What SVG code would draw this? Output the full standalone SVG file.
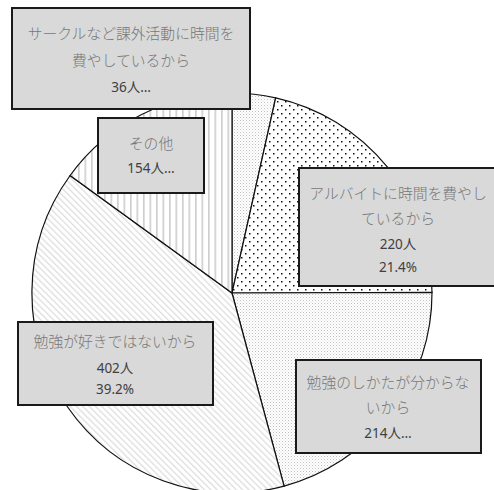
<svg xmlns="http://www.w3.org/2000/svg" width="494" height="490" viewBox="0 0 494 490">
<defs>
<pattern id="fine" width="3" height="3" patternUnits="userSpaceOnUse">
<rect width="3" height="3" fill="#fff"/>
<rect x="0" y="0" width="1" height="1" fill="#c0c0c0"/>
<rect x="1.5" y="1.5" width="1" height="1" fill="#d8d8d8"/>
</pattern>
<pattern id="dots" width="8" height="8" patternUnits="userSpaceOnUse">
<rect width="8" height="8" fill="#fff"/>
<rect x="1" y="1" width="1.5" height="1.5" fill="#111"/>
<rect x="5" y="5" width="1.5" height="1.5" fill="#111"/>
</pattern>
<pattern id="vert" width="6.5" height="10" patternUnits="userSpaceOnUse">
<rect width="6.5" height="10" fill="#fff"/>
<rect x="0" y="0" width="1.6" height="10" fill="#cdcdcd"/>
</pattern>
<pattern id="diag" width="4.5" height="10" patternUnits="userSpaceOnUse" patternTransform="rotate(-45)">
<rect width="4.5" height="10" fill="#fff"/>
<rect x="0" y="0" width="1.3" height="10" fill="#dedede"/>
</pattern>
<style>
.sl{stroke:#111;stroke-width:1.2}
.box{fill:#d9d9d9;stroke:#1a1a1a;stroke-width:2}
.jp{font-family:"Noto Sans CJK JP","Noto Sans",sans-serif;font-size:14.8px;font-weight:300;fill:#777;text-anchor:middle}
.num{font-family:"Noto Sans","Noto Sans CJK JP",sans-serif;font-size:13.5px;fill:#404040;text-anchor:middle}
</style>
</defs>
<rect width="494" height="490" fill="#fff"/>
<g id="pie">
<path id="slice-circle" class="sl" fill="url(#fine)" d="M232,293 L232,93 A200,200 0 0 1 275.7,97.8 Z"/>
<path id="slice-baito" class="sl" fill="url(#dots)" d="M232,293 L275.7,97.8 A200,200 0 0 1 432,292.4 Z"/>
<path id="slice-shikata" class="sl" fill="url(#fine)" d="M232,293 L432,292.4 A200,200 0 0 1 284.1,486.1 Z"/>
<path id="slice-suki" class="sl" fill="url(#diag)" d="M232,293 L284.1,486.1 A200,200 0 0 1 70.1,175.5 Z"/>
<path id="slice-other" class="sl" fill="url(#vert)" d="M232,293 L70.1,175.5 A200,200 0 0 1 232,93 Z"/>
</g>
<g id="label-circle">
<rect class="box" x="12" y="8" width="238" height="101"/>
<text class="jp" x="131" y="39">サークルなど課外活動に時間を</text>
<text class="jp" x="131" y="66">費やしているから</text>
<text class="num" x="131" y="92">36人…</text>
</g>
<g id="label-other">
<rect class="box" x="98" y="118" width="106" height="75"/>
<text class="jp" x="151" y="149">その他</text>
<text class="num" x="151" y="173">154人…</text>
</g>
<g id="label-baito">
<rect class="box" x="299" y="168" width="200" height="118"/>
<text class="jp" x="398" y="199">アルバイトに時間を費やし</text>
<text class="jp" x="398" y="224">ているから</text>
<text class="num" x="398" y="249">220人</text>
<text class="num" x="398" y="272">21.4%</text>
</g>
<g id="label-shikata">
<rect class="box" x="296" y="360" width="185" height="93"/>
<text class="jp" x="388" y="388">勉強のしかたが分からな</text>
<text class="jp" x="388" y="413">いから</text>
<text class="num" x="388" y="438">214人…</text>
</g>
<g id="label-suki">
<rect class="box" x="18" y="322" width="195" height="83"/>
<text class="jp" x="115" y="347">勉強が好きではないから</text>
<text class="num" x="115" y="373">402人</text>
<text class="num" x="115" y="394">39.2%</text>
</g>
</svg>
